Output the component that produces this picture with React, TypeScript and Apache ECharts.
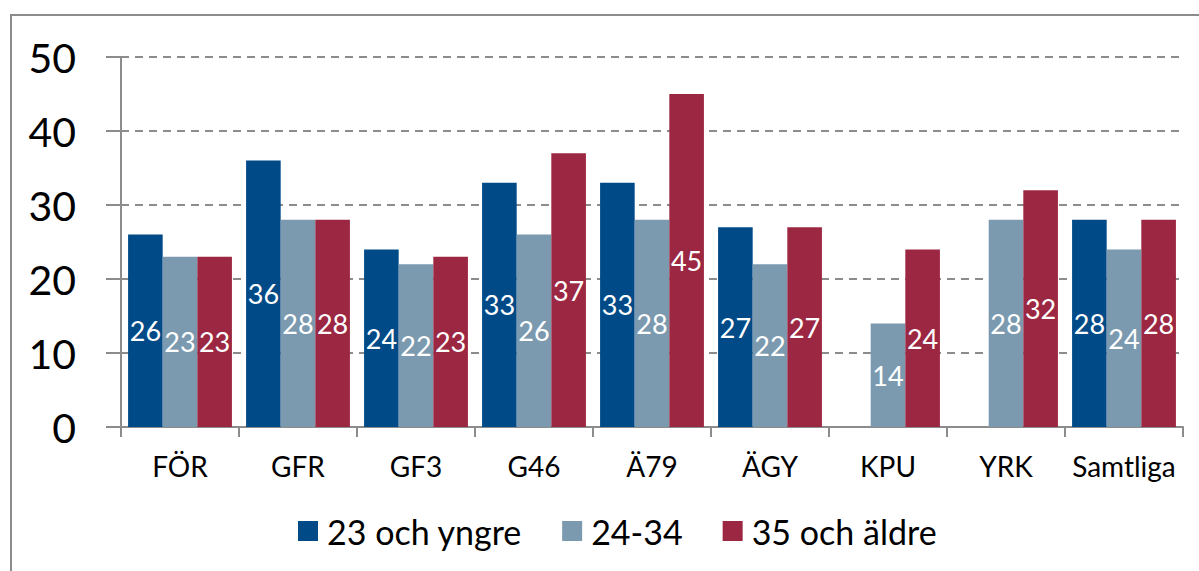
import React, { useEffect, useRef } from "react";
import * as echarts from "echarts";

const categories = ["FÖR", "GFR", "GF3", "G46", "Ä79", "ÄGY", "KPU", "YRK", "Samtliga"];
const seriesNames = ["23 och yngre", "24-34", "35 och äldre"];
const young = [26, 36, 24, 33, 33, 27, null, null, 28];
const middle = [23, 28, 22, 26, 28, 22, 14, 28, 24];
const old = [23, 28, 23, 37, 45, 27, 24, 32, 28];
const colors = ["#014a88", "#7b9aaf", "#9c2742"];
const yTicks = { min: 0, max: 50, interval: 10 };

const FONT = "Lato";

export default function App() {
  const ref = useRef<HTMLDivElement>(null);
  useEffect(() => {
    document.body.style.margin = "0";
    const chart = echarts.init(ref.current!, null, { renderer: "svg" });
    const dataSets = [young, middle, old];
    chart.setOption({
      animation: false,
      textStyle: { fontFamily: FONT },
      graphic: [
        {
          type: "rect",
          shape: { x: 11, y: 15, width: 1400, height: 800 },
          style: { fill: "none", stroke: "#8c8c8c", lineWidth: 2 },
          silent: true,
        },
      ],
      grid: { left: 121, right: 16, top: 57, bottom: 144, containLabel: false },
      legend: {
        left: 298,
        top: 514,
        padding: 0,
        itemWidth: 20,
        itemHeight: 20,
        itemGap: 40,
        icon: "rect",
        textStyle: { fontFamily: FONT, fontSize: 34, color: "#000", padding: [0, 0, 0, 4] },
        data: seriesNames,
      },
      xAxis: {
        type: "category",
        data: categories,
        axisLine: { lineStyle: { color: "#8c8c8c", width: 2 } },
        axisTick: { show: true, length: 10, lineStyle: { color: "#8c8c8c", width: 2 } },
        axisLabel: { fontFamily: FONT, fontSize: 28, color: "#000", margin: 25, interval: 0 },
      },
      yAxis: {
        type: "value",
        min: yTicks.min,
        max: yTicks.max,
        interval: yTicks.interval,
        axisLine: { show: true, lineStyle: { color: "#8c8c8c", width: 2 } },
        axisTick: { show: true, length: 15, lineStyle: { color: "#8c8c8c", width: 2 } },
        axisLabel: { fontFamily: FONT, fontSize: 41, color: "#000", margin: 45 },
        splitLine: { show: true, lineStyle: { color: "#8c8c8c", width: 2, type: [8, 6] } },
      },
      series: seriesNames.map((name, i) => ({
        name,
        type: "bar",
        data: dataSets[i].map((v) => (v === null ? "-" : v)),
        barGap: "0%",
        barCategoryGap: "12%",
        itemStyle: { color: colors[i] },
        label: {
          show: true,
          position: "inside",
          color: "#fff",
          fontFamily: FONT,
          fontSize: 27,
        },
      })),
    });
    return () => chart.dispose();
  }, []);
  return <div ref={ref} style={{ width: 1199, height: 571 }} />;
}
